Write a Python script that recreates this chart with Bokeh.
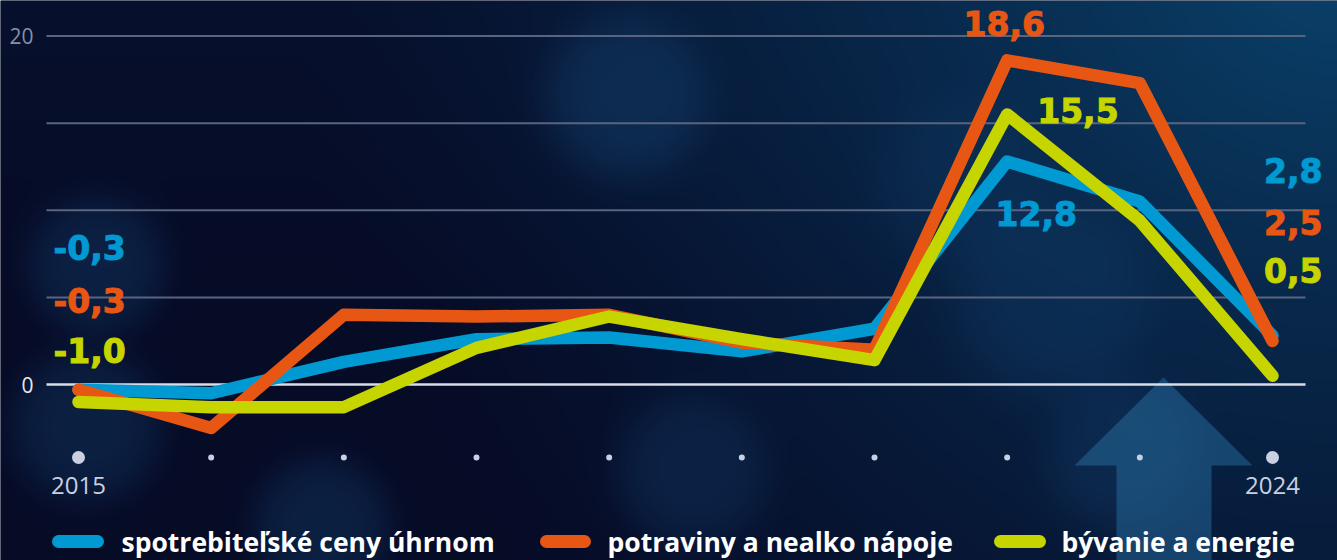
import numpy as np
from bokeh.plotting import figure
from bokeh.core.properties import value
from bokeh.embed import file_html
from bokeh.resources import INLINE

# ---------------- data ----------------
years = [2015, 2016, 2017, 2018, 2019, 2020, 2021, 2022, 2023, 2024]
cpi_total = [-0.3, -0.5, 1.3, 2.6, 2.7, 1.9, 3.2, 12.8, 10.5, 2.8]
food_drinks = [-0.3, -2.5, 4.0, 3.9, 4.0, 2.4, 2.0, 18.6, 17.3, 2.5]
housing_energy = [-1.0, -1.3, -1.3, 2.1, 3.9, 2.6, 1.4, 15.5, 9.4, 0.5]
series_names = ["spotrebiteľské ceny úhrnom", "potraviny a nealko nápoje", "bývanie a energie"]
y_ticks = [0, 5, 10, 15, 20]
y_tick_labels = {0: "0", 20: "20"}
x_tick_labels = {2015: "2015", 2024: "2024"}

BLUE, ORANGE, GREEN = "#0099d2", "#e85614", "#c6d400"

W, H = 1337, 560
# pixel geometry -> data mapping (frame covers the whole canvas)
SX = (1272 - 78) / 9.0          # px per year
SY = (384 - 35.5) / 20.0        # px per unit
X0 = 2015 - 78 / SX
X1 = X0 + W / SX
Y1 = 384 / SY
Y0 = Y1 - H / SY


def px_x(px):
    return X0 + px / SX


def px_y(py):
    return Y1 - py / SY


def fmt(v):
    return f"{v:.1f}".replace(".", ",")


p = figure(width=W, height=H, x_range=(X0, X1), y_range=(Y0, Y1),
           x_axis_type=None, y_axis_type=None, toolbar_location=None,
           output_backend="svg", min_border=0, outline_line_color=None,
           background_fill_color="#050b28", border_fill_color="#050b28")
p.grid.visible = False

# ---------------- background (decorative gradient + soft bokeh blobs) ----------------
hh, ww = 280, 669
yy, xx = np.mgrid[0:hh, 0:ww].astype(float)
xx *= W / ww
yy *= H / hh
dark = np.array([6, 11, 38], float)
light = np.array([10, 60, 100], float)
d = np.sqrt((xx - 1337) ** 2 + (yy + 40) ** 2)
t = np.clip(1 - d / 1050, 0, 1) ** 1.3
t += 0.10 * np.clip(1 - yy / 300, 0, 1)
img = dark[None, None, :] * (1 - t[..., None]) + light[None, None, :] * t[..., None]
blobs = [(625, 95, 60, 0.40), (95, 265, 50, 0.35), (85, 425, 55, 0.35),
         (320, 525, 50, 0.35), (690, 470, 55, 0.30), (1050, 300, 70, 0.28),
         (1120, 455, 55, 0.28), (960, 180, 60, 0.18)]
blob_col = np.array([22, 70, 118], float)
for cx, cy, r, a in blobs:
    g = a * np.exp(-(((xx - cx) ** 2 + (yy - cy) ** 2) / (2 * r * r)) ** 2.2)
    img = img * (1 - g[..., None]) + blob_col[None, None, :] * g[..., None]
rgba = np.zeros((hh, ww, 4), dtype=np.uint8)
rgba[..., :3] = np.clip(img, 0, 255).astype(np.uint8)
rgba[..., 3] = 255
rgba = rgba[::-1]
p.image_rgba(image=[rgba.view(dtype=np.uint32).reshape(hh, ww)],
             x=X0, y=Y0, dw=X1 - X0, dh=Y1 - Y0)

# decorative arrow
arrow_px = [(1163, 377), (1252, 465), (1211, 465), (1211, 560), (1116, 560), (1116, 465), (1074, 465)]
p.patch([px_x(a) for a, b in arrow_px], [px_y(b) for a, b in arrow_px],
        fill_color="#2a76aa", fill_alpha=0.45, line_color=None)

# ---------------- grid ----------------
gx0, gx1 = years[0] - 32 / SX, years[-1] + 33 / SX
for tk in y_ticks:
    p.segment(x0=[gx0], y0=[tk], x1=[gx1], y1=[tk],
              line_color="#d9dde8" if tk == 0 else "#59647f",
              line_width=2.5 if tk == 0 else 2)
for tk, lab in y_tick_labels.items():
    p.text(x=[years[0] - 45 / SX], y=[tk], text=[lab], text_align="right",
           text_baseline="middle", text_font=value("Open Sans"), text_font_size="21px",
           text_color="#e6e9f0" if tk == 0 else "#8790a8")

# x dots and labels
dot_y = px_y(457)
for i, yr in enumerate(years):
    big = yr in x_tick_labels
    p.scatter(x=[yr], y=[dot_y], size=13 if big else 6, color="#c9d0e2", line_color=None)
for yr, lab in x_tick_labels.items():
    p.text(x=[yr], y=[px_y(485)], text=[lab], text_align="center", text_baseline="middle",
           text_font=value("Open Sans"), text_font_size="24px", text_color="#c9d0e2")

# ---------------- lines ----------------
for vals, col in [(cpi_total, BLUE), (food_drinks, ORANGE), (housing_energy, GREEN)]:
    p.line(years, vals, line_color=col, line_width=12.5,
           line_join="round", line_cap="round")

# ---------------- value labels ----------------
lab_font = value("DejaVu Sans")
lab_kw = dict(text_font=lab_font, text_font_size="33px", text_font_style="bold",
              text_baseline="middle")


def vlabel(x, y, txt, col, align):
    p.text(x=[x], y=[y], text=[txt], text_color=col, text_align=align,
           text_outline_color=col, **lab_kw)


# first values (stacked at left)
for vals, col, py in [(cpi_total, BLUE, 247), (food_drinks, ORANGE, 300), (housing_energy, GREEN, 350)]:
    vlabel(years[0] - 25 / SX, px_y(py), fmt(vals[0]), col, "left")
# last values (stacked at right)
for vals, col, py in [(cpi_total, BLUE, 170), (food_drinks, ORANGE, 222), (housing_energy, GREEN, 270)]:
    vlabel(years[-1] + 50 / SX, px_y(py), fmt(vals[-1]), col, "right")
# peaks 2022
i22 = years.index(2022)
vlabel(years[i22] - 3 / SX, food_drinks[i22] + 37 / SY, fmt(food_drinks[i22]), ORANGE, "center")
vlabel(years[i22] + 30 / SX, housing_energy[i22] + 4 / SY, fmt(housing_energy[i22]), GREEN, "left")
vlabel(years[i22] + 29 / SX, cpi_total[i22] - 52 / SY, fmt(cpi_total[i22]), BLUE, "center")

# ---------------- legend ----------------
leg_y = px_y(541)
for name, col, bx0, bx1, tx in [(series_names[0], BLUE, 58, 97, 121),
                                 (series_names[1], ORANGE, 546, 584, 607),
                                 (series_names[2], GREEN, 1000, 1039, 1061)]:
    p.segment(x0=[px_x(bx0)], y0=[leg_y], x1=[px_x(bx1)], y1=[leg_y], line_color=col,
              line_width=13, line_cap="round")
    p.text(x=[px_x(tx)], y=[leg_y], text=[name], text_color="#ffffff", text_align="left",
           text_baseline="middle", text_font=value("Open Sans"), text_font_size="26.5px",
           text_font_style="bold")

open("out.html", "w").write(file_html(p, INLINE))
